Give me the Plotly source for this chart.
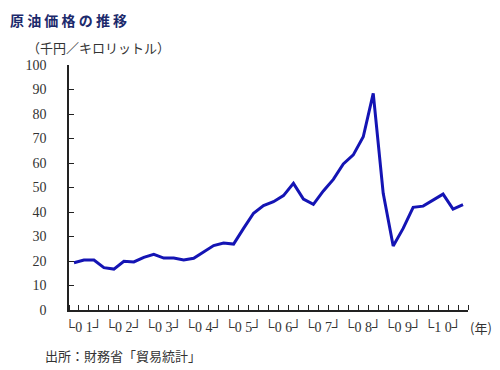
import plotly.graph_objects as go

years = ["01", "02", "03", "04", "05", "06", "07", "08", "09", "10"]
year_labels = ["└0 1┘", "└0 2┘", "└0 3┘", "└0 4┘", "└0 5┘", "└0 6┘", "└0 7┘", "└0 8┘", "└0 9┘", "└1 0┘"]
quarters = list(range(40))
prices = [19.3, 20.4, 20.4, 17.3, 16.7, 19.9, 19.6, 21.5, 22.7, 21.2,
          21.2, 20.4, 21.1, 23.8, 26.3, 27.3, 26.9, 33.3, 39.5, 42.6,
          44.2, 46.7, 51.7, 45.3, 43.1, 48.6, 53.3, 59.6, 63.3, 70.7,
          88.4, 47.6, 26.1, 33.3, 41.9, 42.4, 44.9, 47.3, 41.2, 43.0]
y_ticks = [0, 10, 20, 30, 40, 50, 60, 70, 80, 90, 100]

fig = go.Figure()
fig.add_trace(go.Scatter(x=quarters, y=prices, mode="lines",
                         line=dict(color="#1414b4", width=3), hoverinfo="skip"))

num_font = dict(family="Liberation Serif, DejaVu Serif, serif", size=14, color="#333333")
jp_font = "Noto Sans CJK JP, sans-serif"

# page has an 8px body margin; figure is sized so the plot area lands at x 69-468, y 65-310
fig.update_layout(
    width=492, height=362,
    margin=dict(l=61, r=32, t=57, b=60),
    paper_bgcolor="white", plot_bgcolor="white",
    showlegend=False,
    xaxis=dict(range=[-0.5, 39.5], showgrid=False, zeroline=False,
               showline=True, linecolor="#222222", linewidth=1.5,
               tickvals=[4 * i + 1.0 for i in range(10)], ticktext=year_labels,
               ticks="", tickfont=num_font, ticklabelstandoff=3,
               minor=dict(tick0=0.5, dtick=1, ticks="inside", ticklen=5,
                          tickcolor="#222222", tickwidth=1, showgrid=False)),
    yaxis=dict(range=[0, 100], tickvals=y_ticks, showgrid=False, zeroline=False,
               showline=True, linecolor="#222222", linewidth=1.5,
               ticks="inside", ticklen=5, tickcolor="#222222",
               tickfont=num_font, ticklabelstandoff=18, automargin=False),
    annotations=[
        dict(text="<b>原 油 価 格 の 推 移</b>", x=-61 / 399, y=1 + 57 / 245,
             xref="paper", yref="paper",
             showarrow=False, xanchor="left", yanchor="top",
             font=dict(family=jp_font, size=14, color="#1c2a6c")),
        dict(text="（千円／キロリットル）", x=(25 - 69) / 399, y=(310 - 47) / 245,
             xref="paper", yref="paper",
             showarrow=False, xanchor="left", yanchor="middle",
             font=dict(family=jp_font, size=13, color="#333333")),
        dict(text="(年)", x=(468 - 69) / 399, y=(310 - 327) / 245,
             xref="paper", yref="paper",
             showarrow=False, xanchor="left", yanchor="middle",
             font=dict(family=jp_font, size=13, color="#333333")),
        dict(text="出所：財務省「貿易統計」", x=(43 - 69) / 399, y=(310 - 355) / 245,
             xref="paper", yref="paper",
             showarrow=False, xanchor="left", yanchor="middle",
             font=dict(family=jp_font, size=13, color="#333333")),
    ],
)

fig.write_html("out.html")
